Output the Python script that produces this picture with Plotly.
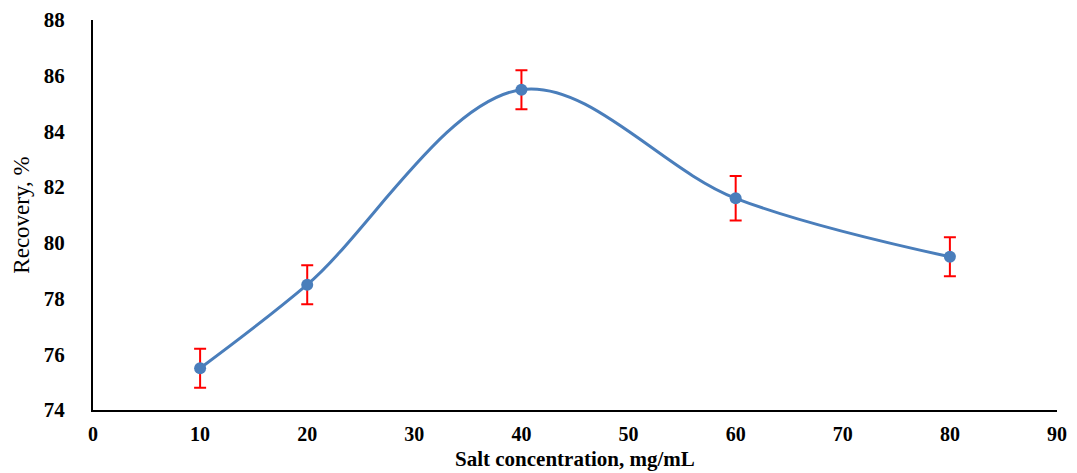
import plotly.graph_objects as go

salt_conc = [10, 20, 40, 60, 80]
recovery = [75.5, 78.5, 85.5, 81.6, 79.5]
err = [0.7, 0.7, 0.7, 0.8, 0.7]
x_ticks = [0, 10, 20, 30, 40, 50, 60, 70, 80, 90]
y_ticks = [74, 76, 78, 80, 82, 84, 86, 88]

fig = go.Figure()
fig.add_trace(go.Scatter(
    x=salt_conc, y=recovery,
    mode="lines+markers",
    line=dict(color="#4a7ebb", width=3, shape="spline", smoothing=1.0),
    marker=dict(color="#4a7ebb", size=12),
    error_y=dict(type="data", array=err, visible=True, color="#ff0000", thickness=2, width=6),
    showlegend=False,
))

font_family = "Liberation Serif"
fig.update_layout(
    width=1077, height=473,
    margin=dict(l=93, r=20, t=20, b=63, autoexpand=False),
    plot_bgcolor="white", paper_bgcolor="white",
    font=dict(family=font_family, color="black"),
    xaxis=dict(
        range=[0, 90], tickvals=x_ticks, showgrid=False, zeroline=False,
        showline=True, linecolor="black", linewidth=2, ticks="", automargin=False,
        tickfont=dict(family=font_family, size=20, color="black", weight="bold"),
        ticklabelstandoff=5,
    ),
    yaxis=dict(
        range=[74, 88], tickvals=y_ticks, showgrid=False, zeroline=False,
        showline=True, linecolor="black", linewidth=2, ticks="", automargin=False,
        tickfont=dict(family=font_family, size=21, color="black", weight="bold"),
        ticklabelstandoff=22,
        title=dict(text="Recovery, %", standoff=8,
                   font=dict(family=font_family, size=23, color="black")),
    ),
    annotations=[dict(
        text="Salt concentration, mg/mL", xref="paper", yref="paper",
        x=0.5, y=0, yshift=-49, xanchor="center", yanchor="middle", showarrow=False,
        borderpad=0,
        font=dict(family=font_family, size=21, color="black", weight="bold"),
    )],
)

fig.write_html("out.html")
